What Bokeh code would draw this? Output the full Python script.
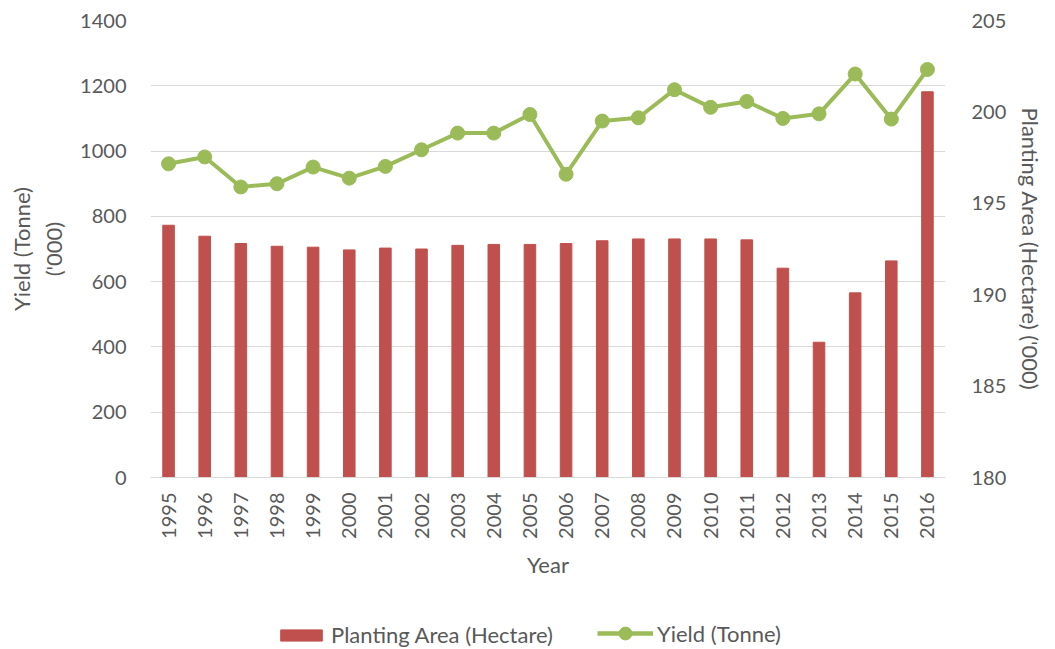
import math
from bokeh.plotting import figure
from bokeh.layouts import column
from bokeh.models import (Range1d, LinearAxis, FixedTicker, Legend, LegendItem,
                          FactorRange)
from bokeh.embed import file_html
from bokeh.resources import INLINE

years = ["1995", "1996", "1997", "1998", "1999", "2000", "2001", "2002", "2003",
         "2004", "2005", "2006", "2007", "2008", "2009", "2010", "2011", "2012",
         "2013", "2014", "2015", "2016"]
planting_area = [193.8, 193.2, 192.8, 192.65, 192.6, 192.45, 192.55, 192.5, 192.7,
                 192.75, 192.75, 192.8, 192.95, 193.05, 193.05, 193.05, 193.0,
                 191.45, 187.4, 190.1, 191.85, 201.1]
yield_tonne = [961, 982, 890, 900, 951, 917, 953, 1004, 1055, 1055, 1112, 929,
               1092, 1102, 1188, 1134, 1152, 1100, 1114, 1236, 1098, 1250]
left_ticks = [0, 200, 400, 600, 800, 1000, 1200, 1400]
right_ticks = [180, 185, 190, 195, 200, 205]

FONT = "Lato"
TXT = "#595959"
BAR = "#C0504D"
LINE = "#9BBB59"

p = figure(x_range=FactorRange(*years, range_padding=0),
           y_range=Range1d(0, 1400),
           frame_width=795, frame_height=457,
           min_border_left=150, min_border_right=110,
           min_border_top=20, min_border_bottom=110,
           output_backend="svg", toolbar_location=None)
p.outline_line_color = None
p.xgrid.grid_line_color = None
p.ygrid.grid_line_color = "#D9D9D9"
p.ygrid.grid_line_width = 1.2

p.extra_y_ranges = {"area": Range1d(180, 205)}

bars = p.vbar(x=years, top=planting_area, bottom=180, width=0.32,
              y_range_name="area", fill_color=BAR, line_color=BAR)
ln = p.line(x=years, y=yield_tonne, line_color=LINE, line_width=4)
pts = p.scatter(x=years, y=yield_tonne, size=14, fill_color=LINE, line_color=LINE)

# left axis
ya = p.yaxis[0]
ya.ticker = FixedTicker(ticks=left_ticks)
ya.axis_label = "Yield (Tonne)\n('000)"

ra = LinearAxis(y_range_name="area", ticker=FixedTicker(ticks=right_ticks),
                axis_label="Planting Area (Hectare) ('000)")
p.add_layout(ra, "right")

for ax in [ya, ra]:
    ax.axis_line_color = None
    ax.major_tick_line_color = None
    ax.minor_tick_line_color = None
    ax.major_label_text_font = FONT
    ax.major_label_text_font_size = "20px"
    ax.major_label_text_color = TXT
    ax.major_label_standoff = 18
    ax.axis_label_text_font = FONT
    ax.axis_label_text_font_size = "22px"
    ax.axis_label_text_font_style = "normal"
    ax.axis_label_text_color = TXT
    ax.axis_label_standoff = 10
ra.major_label_standoff = 20
ra.axis_label_standoff = 8
ra.axis_label_orientation = "vertical"

xa = p.xaxis[0]
xa.axis_line_color = "#D9D9D9"
xa.axis_line_width = 1.2
xa.major_tick_line_color = None
xa.minor_tick_line_color = None
xa.major_label_orientation = math.pi / 2
xa.major_label_text_font = FONT
xa.major_label_text_font_size = "20px"
xa.major_label_text_color = TXT
xa.major_label_standoff = 9
xa.axis_label = "Year"
xa.axis_label_text_font = FONT
xa.axis_label_text_font_size = "22px"
xa.axis_label_text_font_style = "normal"
xa.axis_label_text_color = TXT
xa.axis_label_standoff = 9

# legend strip below the chart (same series, hidden renderers)
p2 = figure(x_range=FactorRange(*years, range_padding=0), y_range=Range1d(0, 1),
            frame_width=1055, frame_height=62, min_border=0,
            x_axis_location=None, y_axis_location=None,
            output_backend="svg", toolbar_location=None)
p2.outline_line_color = None
p2.grid.visible = False
lbars = p2.vbar(x=years, top=planting_area, bottom=180, width=0.32,
                fill_color=BAR, line_color=BAR, visible=False)
lln = p2.line(x=years, y=yield_tonne, line_color=LINE, line_width=4.5, visible=False)
lpts = p2.scatter(x=years, y=yield_tonne, size=14, fill_color=LINE, line_color=LINE,
                  visible=False)

common = dict(orientation="horizontal", border_line_color=None,
              background_fill_alpha=0, inactive_fill_alpha=0,
              label_text_font=FONT, label_text_font_size="22px",
              label_text_color=TXT, label_standoff=4, padding=0, margin=0)
leg1 = Legend(items=[LegendItem(label="Planting Area (Hectare)", renderers=[lbars])],
              location=(275, 1), glyph_width=52, glyph_height=14, **common)
leg2 = Legend(items=[LegendItem(label="Yield (Tonne)", renderers=[lln, lpts])],
              location=(597, 0), glyph_width=56, glyph_height=32, **common)
p2.add_layout(leg1, "center")
p2.add_layout(leg2, "center")

open("out.html", "w").write(file_html(column(p, p2, spacing=0), INLINE))
